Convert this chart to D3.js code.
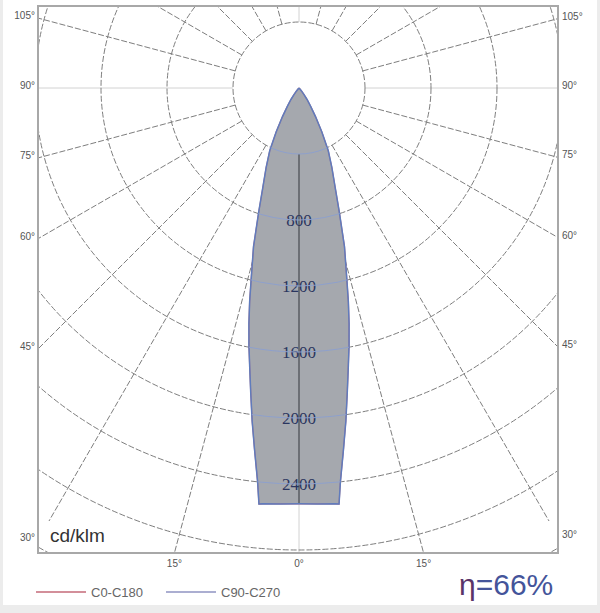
<!DOCTYPE html>
<html>
<head>
<meta charset="utf-8">
<script src="https://cdn.jsdelivr.net/npm/d3@7"></script>
<style>
  body { margin: 0; background: #ececec; }
  svg { display: block; }
</style>
</head>
<body>
<div id="chart"></div>
<script>
// luminous intensity (cd/klm) per angle from nadir
var angleDeg = [0, 2.5, 5, 5.5, 6, 7, 8, 9, 10, 11, 12, 13, 14, 16, 18, 20, 22.5, 25, 27.5, 30, 32.5, 35, 37.5, 40, 42.5, 45, 90];
var c0c180   = [2520, 2523, 2530, 2533, 2400, 2210, 2040, 1870, 1720, 1590, 1460, 1330, 1200, 1000, 790, 640, 520, 420, 300, 200, 130, 85, 50, 25, 10, 0, 0];
var c90c270  = [2520, 2523, 2530, 2533, 2400, 2210, 2040, 1870, 1720, 1590, 1460, 1330, 1200, 1000, 790, 640, 520, 420, 300, 200, 130, 85, 50, 25, 10, 0, 0];

var rings = [400, 800, 1200, 1600, 2000, 2400, 2800, 3200];
var ringLabels = [800, 1200, 1600, 2000, 2400];
var spokes = [0, 15, 30, 45, 60, 75, 90, 105, 120, 135, 150, 165, 180, 195, 210, 225, 240, 255, 270, 285, 300, 315, 330, 345];
var leftLabels = [105, 90, 75, 60, 45, 30];
var bottomLabels = [-15, 0, 15];
var rightLabels = [30, 45, 60, 75, 90, 105];
var legendNames = ["C0-C180", "C90-C270"];
var legendColors = ["#c46a78", "#8f93c2"];
var unitText = "cd/klm";
var etaText = "66%";

var W = 600, H = 613;
var frame = {x0: 38, x1: 558, y0: 6, y1: 553};
var cx = 299, cy = 88;
var spokeLen = 500;

var svg = d3.select("#chart").append("svg")
    .attr("width", W).attr("height", H);

// paper
svg.append("rect").attr("x", 3).attr("y", 0).attr("width", W - 6).attr("height", 605)
    .attr("fill", "#fff");

var r = d3.scaleLinear().domain([0, 2400]).range([0, 396]);

var defs = svg.append("defs");
defs.append("clipPath").attr("id", "frameClip").append("rect")
    .attr("x", frame.x0).attr("y", frame.y0)
    .attr("width", frame.x1 - frame.x0).attr("height", frame.y1 - frame.y0);

var toRad = Math.PI / 180;

// beam outline points, right side then left side
function buildPts(vals) {
    var pts = [];
    for (var i = angleDeg.length - 1; i >= 0; i--) pts.push([angleDeg[i], vals[i]]);
    for (var j = 1; j < angleDeg.length; j++) pts.push([-angleDeg[j], vals[j]]);
    return pts;
}
var radial = d3.lineRadial()
    .angle(function(d){ return Math.PI - d[0] * toRad; })
    .radius(function(d){ return r(d[1]); })
    .curve(d3.curveLinear);

defs.append("clipPath").attr("id", "beamClip").append("path")
    .attr("transform", "translate(" + cx + "," + cy + ")")
    .attr("d", radial(buildPts(c90c270)) + "Z");

var grid = svg.append("g").attr("clip-path", "url(#frameClip)");
var g0 = grid.append("g").attr("transform", "translate(" + cx + "," + cy + ")");

// spokes
g0.selectAll("line.spoke")
    .data(spokes)
    .enter().append("line")
    .attr("class", "spoke")
    .attr("x1", function(d){ return r(400) * Math.sin(d * toRad); })
    .attr("y1", function(d){ return r(400) * Math.cos(d * toRad); })
    .attr("x2", function(d){ return spokeLen * Math.sin(d * toRad); })
    .attr("y2", function(d){ return spokeLen * Math.cos(d * toRad); })
    .attr("stroke", function(d){ return d % 90 == 0 ? "#d2d2d2" : "#7e7e7e"; })
    .attr("stroke-dasharray", function(d){ return d % 90 == 0 ? null : "6,2"; })
    .attr("stroke-width", 1);

// rings
g0.selectAll("circle.ring")
    .data(rings)
    .enter().append("circle")
    .attr("class", "ring")
    .attr("r", function(d){ return r(d); })
    .attr("fill", "none")
    .attr("stroke", "#7e7e7e")
    .attr("stroke-dasharray", "6,2")
    .attr("stroke-width", 1);

// beam
var beam = svg.append("g").attr("transform", "translate(" + cx + "," + cy + ")");
beam.append("path")
    .attr("d", radial(buildPts(c90c270)) + "Z")
    .attr("fill", "#a5a8ae");

// rings seen through the beam
svg.append("g").attr("clip-path", "url(#beamClip)")
    .append("g").attr("transform", "translate(" + cx + "," + cy + ")")
    .selectAll("circle")
    .data(rings)
    .enter().append("circle")
    .attr("r", function(d){ return r(d); })
    .attr("fill", "none")
    .attr("stroke", "#8ea0cc")
    .attr("stroke-width", 1);

// nadir axis inside beam
beam.append("line")
    .attr("x1", 0).attr("y1", r(400))
    .attr("x2", 0).attr("y2", r(c90c270[0]))
    .attr("stroke", "#5a5c62").attr("stroke-width", 1.5);

beam.append("path")
    .attr("d", radial(buildPts(c0c180)))
    .attr("fill", "none").attr("stroke", legendColors[0]).attr("stroke-width", 1.2);
beam.append("path")
    .attr("d", radial(buildPts(c90c270)))
    .attr("fill", "none").attr("stroke", "#5f7cbd").attr("stroke-width", 1.5);

// ring values
beam.selectAll("text.rv")
    .data(ringLabels)
    .enter().append("text")
    .attr("class", "rv")
    .attr("x", 0)
    .attr("y", function(d){ return r(d); })
    .attr("dy", "0.35em")
    .attr("text-anchor", "middle")
    .style("font-family", "'Liberation Serif', serif")
    .style("font-size", "17px")
    .attr("fill", "#2a355f")
    .text(function(d){ return d; });

// frame
svg.append("rect")
    .attr("x", frame.x0).attr("y", frame.y0)
    .attr("width", frame.x1 - frame.x0).attr("height", frame.y1 - frame.y0)
    .attr("fill", "none").attr("stroke", "#a8a8a8").attr("stroke-width", 2);

// angle labels on the frame
function sideY(a, xEdge) {
    var dx = Math.sin(a * toRad), dy = Math.cos(a * toRad);
    return cy + (xEdge - cx) / dx * dy;
}
var lab = svg.append("g")
    .style("font-family", "'Liberation Sans', Arial, sans-serif")
    .style("font-size", "10px")
    .attr("fill", "#555");

lab.selectAll("text.l")
    .data(leftLabels)
    .enter().append("text")
    .attr("class", "l")
    .attr("x", frame.x0 - 3)
    .attr("y", function(d){ return sideY(-d, frame.x0); })
    .attr("dy", "0.1em")
    .attr("text-anchor", "end")
    .text(function(d){ return d + "°"; });

lab.selectAll("text.r")
    .data(rightLabels)
    .enter().append("text")
    .attr("class", "r")
    .attr("x", frame.x1 + 4)
    .attr("y", function(d){ return sideY(d, frame.x1); })
    .attr("dy", "0.1em")
    .attr("text-anchor", "start")
    .text(function(d){ return d + "°"; });

lab.selectAll("text.b")
    .data(bottomLabels)
    .enter().append("text")
    .attr("class", "b")
    .attr("x", function(d){ return cx + (frame.y1 - cy) * Math.tan(d * toRad); })
    .attr("y", frame.y1 + 14)
    .attr("text-anchor", "middle")
    .text(function(d){ return Math.abs(d) + "°"; });

// unit
svg.append("text")
    .attr("x", 50).attr("y", 542)
    .style("font-family", "'Liberation Sans', Arial, sans-serif")
    .style("font-size", "19px")
    .attr("fill", "#333")
    .text(unitText);

// legend
var leg = svg.append("g")
    .style("font-family", "'Liberation Sans', Arial, sans-serif")
    .style("font-size", "13px")
    .attr("fill", "#666");
var legX = [36, 166];
legendNames.forEach(function(n, i){
    leg.append("line")
        .attr("x1", legX[i]).attr("x2", legX[i] + 50)
        .attr("y1", 592).attr("y2", 592)
        .attr("stroke", legendColors[i]).attr("stroke-width", 1.5);
    leg.append("text")
        .attr("x", legX[i] + 55).attr("y", 596.5)
        .text(n);
});

// efficiency
var eta = svg.append("text")
    .attr("x", 459).attr("y", 595)
    .style("font-family", "'Liberation Sans', Arial, sans-serif")
    .style("font-size", "30px");
eta.append("tspan").attr("fill", "#5a3468").text("η");
eta.append("tspan").attr("fill", "#44549a").text("=" + etaText);
</script>
</body>
</html>
